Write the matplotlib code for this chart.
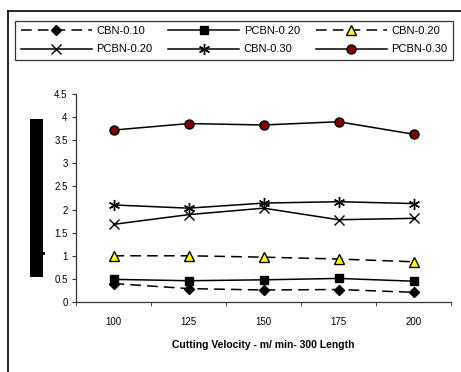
import matplotlib
matplotlib.use("Agg")
import matplotlib.pyplot as plt
from matplotlib.patches import Rectangle
from matplotlib.lines import Line2D

plt.rcParams['font.family'] = ['Liberation Sans', 'DejaVu Sans']

categories = ["100", "125", "150", "175", "200"]
cbn_010 = [0.40, 0.29, 0.26, 0.27, 0.21]
pcbn_020_sq = [0.49, 0.46, 0.48, 0.51, 0.45]
cbn_020 = [1.00, 1.00, 0.97, 0.93, 0.87]
pcbn_020_x = [1.68, 1.89, 2.03, 1.78, 1.81]
cbn_030 = [2.10, 2.03, 2.14, 2.17, 2.13]
pcbn_030 = [3.72, 3.86, 3.83, 3.90, 3.63]
yticks = [0, 0.5, 1, 1.5, 2, 2.5, 3, 3.5, 4, 4.5]
ytick_labels = ["0", "0.5", "1", "1.5", "2", "2.5", "3", "3.5", "4", "4.5"]

W, H = 461, 372
fig = plt.figure(figsize=(W/100, H/100), dpi=100)

def fx(px): return px / W
def fy(py): return 1 - py / H

ax = fig.add_axes([fx(76), fy(302), fx(451) - fx(76), fy(94) - fy(302)])
x = list(range(len(categories)))
dash = (0, (7, 4))
lw = 1.1
series = [
    dict(y=cbn_010, label="CBN-0.10", ls=dash, marker="D", mfc="black", ms=5.5),
    dict(y=pcbn_020_sq, label="PCBN-0.20", ls="-", marker="s", mfc="black", ms=5.5),
    dict(y=cbn_020, label="CBN-0.20", ls=dash, marker="^", mfc="#FFFF00", ms=7),
    dict(y=pcbn_020_x, label="PCBN-0.20", ls="-", marker="x", mfc="black", ms=7),
    dict(y=cbn_030, label="CBN-0.30", ls="-", marker=(6, 2, 0), mfc="black", ms=8),
    dict(y=pcbn_030, label="PCBN-0.30", ls="-", marker="o", mfc="#800000", ms=6.5),
]
handles = []
for s in series:
    h, = ax.plot(x, s["y"], color="black", lw=lw, linestyle=s["ls"], marker=s["marker"],
                 mfc=s["mfc"], mec="black", ms=s["ms"], mew=1.0, label=s["label"])
    handles.append(h)

ax.set_xlim(-0.5, len(categories) - 0.5)
ax.set_ylim(0, 4.5)
ax.set_yticks(yticks)
ax.set_yticklabels(ytick_labels)
ax.set_xticks(x)
ax.set_xticklabels(categories)
ax.set_xticks([i - 0.5 for i in range(len(categories) + 1)], minor=True)
ax.tick_params(axis='x', which='major', length=0, labelsize=7, pad=11)
ax.tick_params(axis='x', which='minor', length=3, direction='out', color='#333333')
ax.tick_params(axis='y', length=3, direction='out', labelsize=7, pad=3, color='#333333')
for sp in ["top", "right"]:
    ax.spines[sp].set_visible(False)
for sp in ["left", "bottom"]:
    ax.spines[sp].set_color('#333333')
    ax.spines[sp].set_linewidth(0.9)
ax.patch.set_alpha(0)

ax.set_xlabel("Cutting Velocity - m/ min- 300 Length", fontsize=7.5, fontweight='bold', labelpad=9)

order = [0, 3, 1, 4, 2, 5]
leg = fig.legend([handles[i] for i in order], [series[i]["label"] for i in order],
                 ncol=3, loc='lower left', mode='expand',
                 bbox_to_anchor=(fx(15), fy(60), fx(453) - fx(15), fy(15) - fy(60)),
                 frameon=True, fancybox=False, fontsize=8, handlelength=6.4,
                 handletextpad=0.4, columnspacing=1.2, borderpad=0.5, labelspacing=0.75,
                 borderaxespad=0)
leg.get_frame().set_edgecolor('black')
leg.get_frame().set_linewidth(0.9)

# outer border lines
fig.add_artist(Line2D([fx(7.5), fx(7.5)], [fy(10.5), 0], color='black', lw=1.2))
fig.add_artist(Line2D([fx(7.5), 1], [fy(10.5), fy(10.5)], color='black', lw=1.2))

# black bar (obscured y-label)
fig.add_artist(Rectangle((fx(30), fy(277)), fx(43) - fx(30), fy(119) - fy(277),
                         facecolor='black', edgecolor='none'))
fig.add_artist(Rectangle((fx(43), fy(255)), fx(45) - fx(43), fy(252) - fy(255),
                         facecolor='black', edgecolor='none'))

fig.savefig("out.png", dpi=100)
